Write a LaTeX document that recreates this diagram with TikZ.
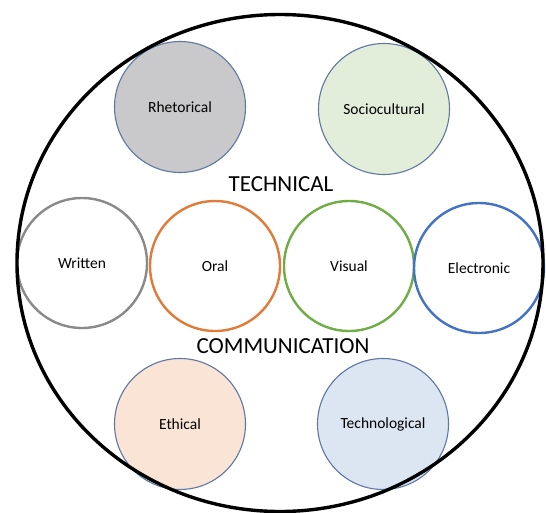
\documentclass[tikz,border=0pt]{standalone}
\usepackage{fontspec}
\setmainfont{Carlito}
\usetikzlibrary{shapes.geometric}

\definecolor{rimblue}{HTML}{5E77A3}
\definecolor{fillgray}{HTML}{C9C8CA}
\definecolor{fillgreen}{HTML}{E3EEDA}
\definecolor{fillpeach}{HTML}{F9E4D6}
\definecolor{fillblue}{HTML}{DCE5F2}
\definecolor{ringgray}{HTML}{8A8A8A}
\definecolor{ringorange}{HTML}{E07B39}
\definecolor{ringgreen}{HTML}{70AD47}
\definecolor{ringblue}{HTML}{4472C4}

\tikzset{
  filled/.style={circle, draw=rimblue, line width=1.1pt, minimum size=131pt,
    inner sep=0pt, font=\fontsize{15.5}{18}\selectfont},
  ring/.style={circle, draw=#1, line width=2.4pt, minimum size=130pt,
    inner sep=0pt, font=\fontsize{15.5}{18}\selectfont},
  headline/.style={font=\fontsize{23}{27}\selectfont, inner sep=0pt},
  outer/.style={ellipse, draw=black, line width=3.4pt, minimum width=526pt,
    minimum height=497pt, inner sep=0pt}
}

\begin{document}
\begin{tikzpicture}[x=1pt, y=-1pt]
  \useasboundingbox (0,0) rectangle (546,512);

  % shaded aspects, top and bottom
  \node[filled, fill=fillgray]  (rhet)  at (180,107) {Rhetorical};
  \node[filled, fill=fillgreen] (socio) at (384,109) {Sociocultural};
  \node[filled, fill=fillpeach] (eth)   at (180,424) {Ethical};
  \node[filled, fill=fillblue]  (tech)  at (383,424) {Technological};

  % the four modes across the middle
  \node[ring=ringgray]   (written) at (82,263)  {Written};
  \node[ring=ringorange] (oral)    at (215,266) {Oral};
  \node[ring=ringgreen]  (visual)  at (349,266) {Visual};
  \node[ring=ringblue]   (elec)    at (479,268) {Electronic};

  % title words
  \node[headline] (t1) at (281,184) {TECHNICAL};
  \node[headline] (t2) at (283,346) {COMMUNICATION};

  % enclosing outline
  \node[outer] (frame) at (280,263) {};
\end{tikzpicture}
\end{document}
